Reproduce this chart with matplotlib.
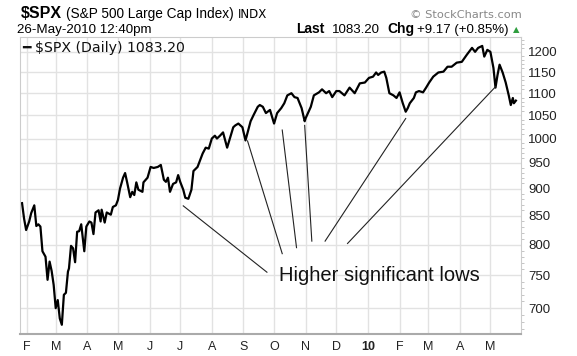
import pandas as pd
import matplotlib.pyplot as plt
import matplotlib.ticker as mticker

# datos (aprox.)
dates = ['2009-01-27', '2009-01-29', '2009-01-31', '2009-02-03', '2009-02-05', '2009-02-08',
         '2009-02-10', '2009-02-12', '2009-02-14', '2009-02-16', '2009-02-19', '2009-02-21',
         '2009-02-23', '2009-02-25', '2009-02-27', '2009-03-01', '2009-03-03', '2009-03-05',
         '2009-03-07', '2009-03-09', '2009-03-11', '2009-03-13', '2009-03-14', '2009-03-16',
         '2009-03-18', '2009-03-20', '2009-03-22', '2009-03-24', '2009-03-26', '2009-03-29',
         '2009-03-31', '2009-04-03', '2009-04-05', '2009-04-07', '2009-04-09', '2009-04-12',
         '2009-04-14', '2009-04-15', '2009-04-18', '2009-04-20', '2009-04-24', '2009-04-26',
         '2009-04-29', '2009-05-01', '2009-05-03', '2009-05-06', '2009-05-08', '2009-05-10',
         '2009-05-13', '2009-05-15', '2009-05-17', '2009-05-19', '2009-05-21', '2009-05-25',
         '2009-05-26', '2009-05-30', '2009-06-02', '2009-06-05', '2009-06-09', '2009-06-12',
         '2009-06-15', '2009-06-17', '2009-06-19', '2009-06-21', '2009-06-24', '2009-06-27',
         '2009-06-29', '2009-07-01', '2009-07-04', '2009-07-06', '2009-07-09', '2009-07-12',
         '2009-07-14', '2009-07-18', '2009-07-23', '2009-07-26', '2009-07-29', '2009-08-01',
         '2009-08-04', '2009-08-06', '2009-08-09', '2009-08-12', '2009-08-16', '2009-08-19',
         '2009-08-22', '2009-08-24', '2009-08-27', '2009-08-31', '2009-09-03', '2009-09-08',
         '2009-09-11', '2009-09-15', '2009-09-17', '2009-09-20', '2009-09-23', '2009-09-27',
         '2009-10-01', '2009-10-04', '2009-10-08', '2009-10-11', '2009-10-14', '2009-10-18',
         '2009-10-21', '2009-10-24', '2009-10-28', '2009-10-31', '2009-11-01', '2009-11-06',
         '2009-11-09', '2009-11-14', '2009-11-17', '2009-11-21', '2009-11-24', '2009-11-27',
         '2009-12-01', '2009-12-04', '2009-12-09', '2009-12-14', '2009-12-19', '2009-12-24',
         '2009-12-29', '2010-01-02', '2010-01-06', '2010-01-09', '2010-01-11', '2010-01-14',
         '2010-01-17', '2010-01-19', '2010-01-22', '2010-01-26', '2010-01-29', '2010-02-01',
         '2010-02-04', '2010-02-07', '2010-02-09', '2010-02-11', '2010-02-15', '2010-02-17',
         '2010-02-20', '2010-02-24', '2010-02-27', '2010-03-02', '2010-03-06', '2010-03-11',
         '2010-03-16', '2010-03-20', '2010-03-24', '2010-03-29', '2010-04-03', '2010-04-08',
         '2010-04-13', '2010-04-16', '2010-04-19', '2010-04-23', '2010-04-25', '2010-04-28',
         '2010-05-01', '2010-05-04', '2010-05-06', '2010-05-08', '2010-05-10', '2010-05-13',
         '2010-05-16', '2010-05-19', '2010-05-21', '2010-05-23', '2010-05-24', '2010-05-26']
closes = [873, 845, 825, 840, 855, 869,
          832, 835, 831, 789, 780, 743,
          772, 757, 735, 700, 712, 685,
          676, 720, 723, 756, 761, 798,
          794, 771, 822, 823, 835, 789,
          831, 840, 838, 818, 856, 860,
          840, 861, 838, 856, 852, 866,
          869, 879, 900, 921, 930, 912,
          884, 894, 888, 912, 898, 894,
          912, 921, 942, 940, 942, 946,
          917, 913, 921, 894, 909, 912,
          926, 913, 898, 883, 881, 898,
          934, 942, 969, 981, 979, 1000,
          1006, 1000, 1006, 1013, 981, 1002,
          1024, 1028, 1032, 1024, 996, 1037,
          1051, 1069, 1073, 1069, 1055, 1062,
          1032, 1055, 1066, 1077, 1095, 1100,
          1091, 1089, 1066, 1037, 1044, 1069,
          1095, 1102, 1109, 1100, 1105, 1091,
          1105, 1105, 1095, 1113, 1100, 1123,
          1125, 1136, 1139, 1149, 1143, 1149,
          1151, 1136, 1100, 1095, 1089, 1102,
          1078, 1058, 1066, 1077, 1089, 1102,
          1105, 1102, 1113, 1125, 1139, 1149,
          1151, 1163, 1163, 1173, 1175, 1193,
          1210, 1200, 1210, 1215, 1188, 1205,
          1200, 1160, 1113, 1143, 1168, 1149,
          1125, 1095, 1073, 1089, 1077, 1083]

month_starts = ['2009-02-01', '2009-03-01', '2009-04-01', '2009-05-01', '2009-06-01', '2009-07-01',
                '2009-08-01', '2009-09-01', '2009-10-01', '2009-11-01', '2009-12-01', '2010-01-01',
                '2010-02-01', '2010-03-01', '2010-04-01', '2010-05-01']
month_labels = ['F', 'M', 'A', 'M', 'J', 'J', 'A', 'S', 'O', 'N', 'D', '10', 'F', 'M', 'A', 'M']
y_ticks = [700, 750, 800, 850, 900, 950, 1000, 1050, 1100, 1150, 1200]

# lineas de anotacion: desde cada minimo hasta el texto
ann_from_dates = ['2009-07-04', '2009-09-05', '2009-10-09', '2009-10-31', '2010-02-07', '2010-05-06']
ann_from_vals = [868, 995, 1018, 1028, 1043, 1115]
ann_to_dates = ['2009-09-24', '2009-10-09', '2009-10-23', '2009-11-07', '2009-11-20', '2009-12-12']
ann_to_vals = [755, 785, 795, 806, 806, 802]

x = pd.to_datetime(dates)
ticks_x = pd.to_datetime(month_starts)

fig = plt.figure(figsize=(5.77, 3.56), dpi=100)
ax = fig.add_axes([20 / 577, 1 - 334 / 356, 501 / 577, 297 / 356])

ax.plot(x, closes, color='black', linewidth=1.6)

for d0, v0, d1, v1 in zip(ann_from_dates, ann_from_vals, ann_to_dates, ann_to_vals):
    ax.plot(pd.to_datetime([d0, d1]), [v0, v1], color='#222222', linewidth=0.8)

ax.text(pd.Timestamp('2009-10-06'), 741, 'Higher significant lows', fontsize=14.5,
        family='Liberation Sans', color='#111111', va='baseline', ha='left')

ax.set_yscale('log')
ax.set_ylim(663, 1238)
ax.set_xlim(pd.Timestamp('2009-01-25'), pd.Timestamp('2010-05-31'))

ax.yaxis.set_major_locator(mticker.FixedLocator(y_ticks))
ax.yaxis.set_major_formatter(mticker.FixedFormatter([str(v) for v in y_ticks]))
ax.yaxis.set_minor_locator(mticker.FixedLocator(list(range(670, 1240, 10))))
ax.yaxis.set_minor_formatter(mticker.NullFormatter())
ax.yaxis.tick_right()
ax.tick_params(axis='y', which='major', length=0, pad=5, labelsize=9.5, labelcolor='#222222')
ax.tick_params(axis='y', which='minor', length=2, color='#bbbbbb')

ax.set_xticks(ticks_x)
ax.set_xticklabels(month_labels)
ax.tick_params(axis='x', length=0, pad=5, labelsize=9, labelcolor='#222222')
for lbl in ax.get_xticklabels():
    if lbl.get_text() == '10':
        lbl.set_fontweight('bold')
for lbl in ax.get_xticklabels() + ax.get_yticklabels():
    lbl.set_family('Liberation Sans')

ax.grid(True, which='major', color='#e2e2e2', linewidth=1)
ax.set_axisbelow(True)
for s in ax.spines.values():
    s.set_color('#cccccc')
ax.spines['bottom'].set_color('#aaaaaa')
ax.spines['bottom'].set_linewidth(1.5)

# leyenda dentro del grafico
ax.text(2 / 501, 1 - 4 / 297, '\u2501 $SPX (Daily) 1083.20', transform=ax.transAxes, fontsize=10.2,
        family='DejaVu Sans', va='top', ha='left', color='#111111')

# cabecera
fig.text(21 / 577, 1 - 18 / 356, '$SPX', fontsize=11.5, fontweight='bold', family='Liberation Sans')
fig.text(66 / 577, 1 - 18 / 356, '(S&P 500 Large Cap Index)', fontsize=9.8, family='Liberation Sans')
fig.text(238 / 577, 1 - 18 / 356, 'INDX', fontsize=8.5, family='DejaVu Sans')
fig.text(522 / 577, 1 - 18 / 356, '\u00a9 StockCharts.com', fontsize=8.2, family='DejaVu Sans',
         color='#888888', ha='right')
fig.text(17 / 577, 1 - 33 / 356, '26-May-2010 12:40pm', fontsize=9.6, family='Liberation Sans')
fig.text(296 / 577, 1 - 33 / 356, 'Last', fontsize=10, fontweight='bold', family='Liberation Sans')
fig.text(332 / 577, 1 - 33 / 356, '1083.20', fontsize=9.5, family='Liberation Sans')
fig.text(387 / 577, 1 - 33 / 356, 'Chg', fontsize=10, fontweight='bold', family='Liberation Sans')
fig.text(417 / 577, 1 - 33 / 356, '+9.17 (+0.85%)', fontsize=9.5, family='Liberation Sans')
fig.text(513 / 577, 1 - 32 / 356, '\u25b2', fontsize=6, family='DejaVu Sans', color='#2e9e3e')

plt.savefig('out.png', dpi=100)
